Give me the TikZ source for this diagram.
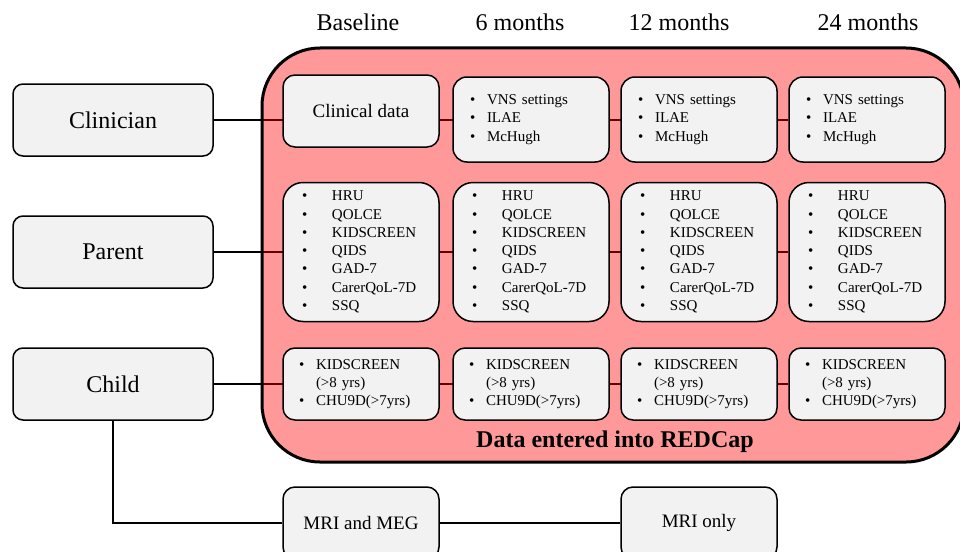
\documentclass[tikz,border=0pt]{standalone}
\usepackage{fontspec}
\setmainfont{Liberation Serif}
\usetikzlibrary{shapes}
\usetikzlibrary{positioning}
\usetikzlibrary{backgrounds}
\definecolor{boxgray}{HTML}{F2F2F2}
\newcommand{\bl}[2][17pt]{\makebox[#1][l]{\textbullet}#2}
\tikzstyle{who}=[
        rectangle,
        draw,
        rounded corners=10pt,
        line width=1.5pt,
        fill=boxgray,
        minimum width=200pt,
        minimum height=72pt,
        font=\fontsize{24}{28}\selectfont
]
\tikzstyle{visit}=[
        rectangle,
        draw,
        rounded corners=14pt,
        line width=1.5pt,
        fill=boxgray,
        inner xsep=17pt,
        text width=122pt,
        align=left,
        font=\fontsize{15}{18.3}\selectfont
]
\tikzstyle{plain}=[rectangle,draw,rounded corners=12pt,line width=1.5pt,fill=boxgray,
minimum width=156pt,minimum height=72pt,font=\fontsize{19}{22}\selectfont]
\tikzstyle{head}=[anchor=base,font=\fontsize{24}{28}\selectfont]
\tikzstyle{panel}=[draw,line width=3pt,rounded corners=58pt,fill=red,fill opacity=0.4,draw opacity=1]
\tikzstyle{link}=[line width=1.5pt]
\begin{document}
\begin{tikzpicture}[x=1pt,y=-1pt]
\useasboundingbox (0,0) rectangle (960,551);
\node[head] (hb) at (358,31) {Baseline};
\node[head] (h6) at (520,31) {6 months};
\node[head] (h12) at (679,31) {12 months};
\node[head] (h24) at (868,31) {24 months};
\node[who] (clin) at (113,120) {Clinician};
\node[who] (par) at (113,252) {Parent};
\node[who] (chi) at (113,384) {Child};
\node[plain] (cd) at (361,111) {Clinical data};
\node[visit,minimum height=85pt] (c6) at (531,119.5) {\bl{VNS settings}\\\bl{ILAE}\\\bl{McHugh}};
\node[visit,minimum height=85pt] (c12) at (699,119.5) {\bl{VNS settings}\\\bl{ILAE}\\\bl{McHugh}};
\node[visit,minimum height=85pt] (c24) at (867,119.5) {\bl{VNS settings}\\\bl{ILAE}\\\bl{McHugh}};
\node[visit,minimum height=139pt,inner xsep=19pt,text width=118pt,rounded corners=20pt] (p0) at (361,252)
  {\bl[30pt]{HRU}\\\bl[30pt]{QOLCE}\\\bl[30pt]{KIDSCREEN}\\\bl[30pt]{QIDS}\\\bl[30pt]{GAD-7}\\\bl[30pt]{CarerQoL-7D}\\\bl[30pt]{SSQ}};
\node[visit,minimum height=139pt,inner xsep=19pt,text width=118pt,rounded corners=20pt] (p6) at (531,252)
  {\bl[30pt]{HRU}\\\bl[30pt]{QOLCE}\\\bl[30pt]{KIDSCREEN}\\\bl[30pt]{QIDS}\\\bl[30pt]{GAD-7}\\\bl[30pt]{CarerQoL-7D}\\\bl[30pt]{SSQ}};
\node[visit,minimum height=139pt,inner xsep=19pt,text width=118pt,rounded corners=20pt] (p12) at (699,252)
  {\bl[30pt]{HRU}\\\bl[30pt]{QOLCE}\\\bl[30pt]{KIDSCREEN}\\\bl[30pt]{QIDS}\\\bl[30pt]{GAD-7}\\\bl[30pt]{CarerQoL-7D}\\\bl[30pt]{SSQ}};
\node[visit,minimum height=139pt,inner xsep=19pt,text width=118pt,rounded corners=20pt] (p24) at (867,252)
  {\bl[30pt]{HRU}\\\bl[30pt]{QOLCE}\\\bl[30pt]{KIDSCREEN}\\\bl[30pt]{QIDS}\\\bl[30pt]{GAD-7}\\\bl[30pt]{CarerQoL-7D}\\\bl[30pt]{SSQ}};
\node[visit,minimum height=72pt,inner xsep=16pt,text width=124pt,rounded corners=12pt] (k0) at (361,384)
  {\bl{KIDSCREEN}\\\hspace*{17pt}(>8 yrs)\\\bl{CHU9D(>7yrs)}};
\node[visit,minimum height=72pt,inner xsep=16pt,text width=124pt,rounded corners=12pt] (k6) at (531,384)
  {\bl{KIDSCREEN}\\\hspace*{17pt}(>8 yrs)\\\bl{CHU9D(>7yrs)}};
\node[visit,minimum height=72pt,inner xsep=16pt,text width=124pt,rounded corners=12pt] (k12) at (699,384)
  {\bl{KIDSCREEN}\\\hspace*{17pt}(>8 yrs)\\\bl{CHU9D(>7yrs)}};
\node[visit,minimum height=72pt,inner xsep=16pt,text width=124pt,rounded corners=12pt] (k24) at (867,384)
  {\bl{KIDSCREEN}\\\hspace*{17pt}(>8 yrs)\\\bl{CHU9D(>7yrs)}};
\node[anchor=base,font=\fontsize{24}{28}\selectfont\bfseries] (redcap) at (615,447) {Data entered into REDCap};
\node[plain] (mrimeg) at (361,523) {MRI and MEG};
\node[plain] (mrionly) at (699,523) {MRI only};
%lines under the boxes
\begin{scope}[on background layer]
\draw[link] (clin.east) -- (clin.east -| c24.west);
\draw[link] (par.east) -- (par.east -| p24.west);
\draw[link] (chi.east) -- (chi.east -| k24.west);
\draw[panel] (262,48) rectangle (964,462);
\end{scope}
\draw[link] (chi.south) |- (mrimeg.west);
\draw[link] (mrimeg) -- (mrionly);
\end{tikzpicture}
\end{document}
